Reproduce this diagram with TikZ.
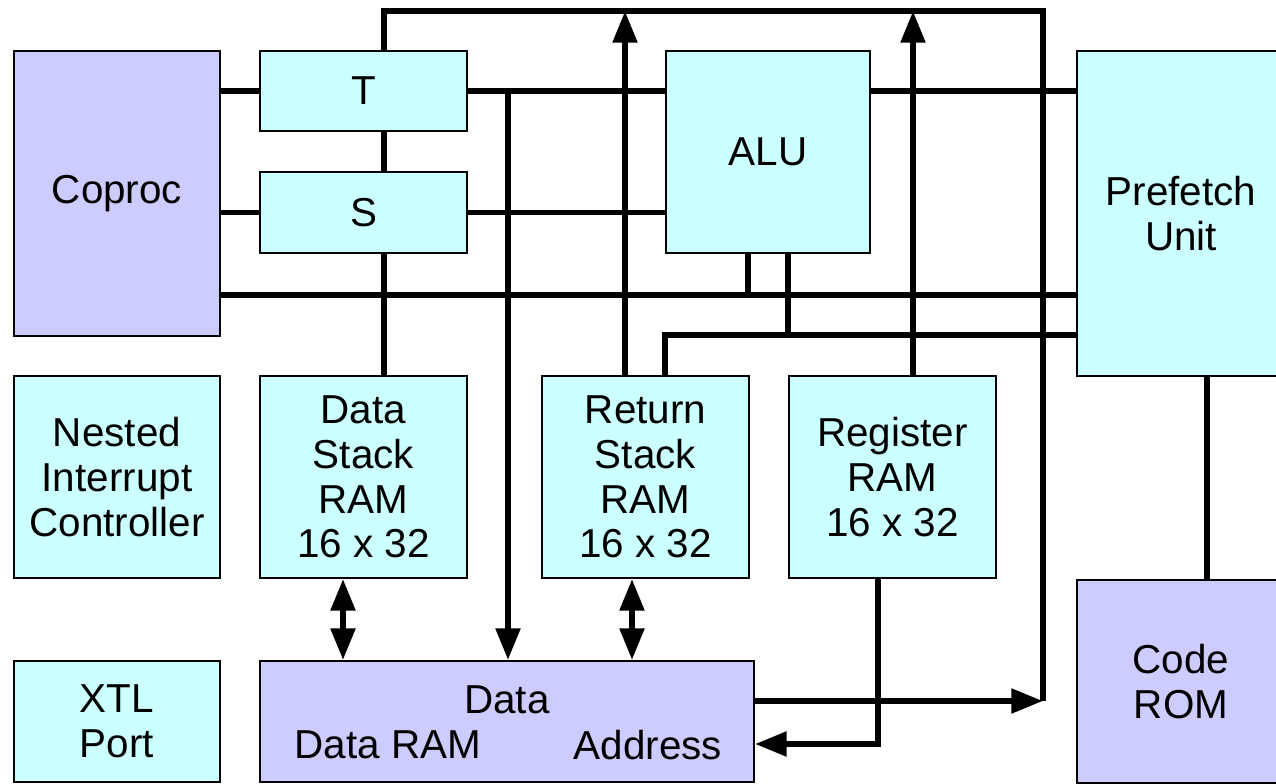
\documentclass[tikz,border=0pt]{standalone}
\usepackage{fontspec}
\setmainfont{Liberation Sans}
\usetikzlibrary{arrows.meta}
\definecolor{lav}{HTML}{CCCCFF}
\definecolor{aqua}{HTML}{CCFFFF}
\begin{document}
\begin{tikzpicture}[x=0.02cm, y=-0.02cm,
	blk/.style={draw, line width=1.1pt, align=center, inner sep=0pt, font=\fontsize{23}{25.5}\selectfont},
	cy/.style={blk, fill=aqua},
	lv/.style={blk, fill=lav},
	lbl/.style={inner sep=0pt, font=\fontsize{23}{25.5}\selectfont},
	bus/.style={line width=3.4pt},
	arr/.style={bus, -{Triangle[length=18pt, width=13.5pt]}},
	dbl/.style={bus, {Triangle[length=18pt, width=13.5pt]}-{Triangle[length=18pt, width=13.5pt]}}]
	\useasboundingbox (0,0) rectangle (1276,784);
	\node[lv, minimum width=4.12cm, minimum height=5.70cm] (coproc) at (117,193.5) {Coproc};
	\node[cy, minimum width=4.14cm, minimum height=1.60cm] (t) at (363.5,91) {T};
	\node[cy, minimum width=4.14cm, minimum height=1.62cm] (s) at (363.5,212.5) {S};
	\node[cy, minimum width=4.08cm, minimum height=4.04cm] (alu) at (768,152) {ALU};
	\node[cy, minimum width=4.16cm, minimum height=6.50cm] (pref) at (1181,213.5) {Prefetch\\Unit};
	\node[cy, minimum width=4.12cm, minimum height=4.04cm] (nic) at (117,477) {Nested\\Interrupt\\Controller};
	\node[cy, minimum width=4.14cm, minimum height=4.04cm] (dsr) at (363.5,477) {Data\\Stack\\RAM\\16 x 32};
	\node[cy, minimum width=4.14cm, minimum height=4.04cm] (rsr) at (645.5,477) {Return\\Stack\\RAM\\16 x 32};
	\node[cy, minimum width=4.14cm, minimum height=4.04cm] (reg) at (892.5,477) {Register\\RAM\\16 x 32};
	\node[cy, minimum width=4.12cm, minimum height=2.42cm] (xtl) at (117,721.5) {XTL\\Port};
	\node[lv, minimum width=9.88cm, minimum height=2.42cm] (dram) at (507,721.5) {};
	\node[lv, minimum width=4.16cm, minimum height=4.06cm] (rom) at (1181,681.5) {Code\\ROM};
	\node[lbl] (dlbl) at (507,700) {Data};
	\node[lbl] (ramlbl) at (388,745) {Data RAM};
	\node[lbl] (adrlbl) at (648,745) {Address};
	\coordinate (cx1) at (384,11);
	\coordinate (bus) at (1043,11);
	\coordinate (ret) at (1043,701);
	\coordinate (cxd) at (508,0);
	\coordinate (cxq) at (665,0);
	\coordinate (cxa) at (748,0);
	\coordinate (cxb) at (788,0);
	\coordinate (cxm) at (878,0);
	\coordinate (cxp) at (1207,0);
	\coordinate (hy1) at (0,295);
	\coordinate (hy2) at (0,335);
	\coordinate (hy3) at (0,744);
	\draw[bus] (t.north -| cx1) -- (cx1) -- (bus) -- (ret);
	\draw[arr] (dram.east |- ret) -- (ret);
	\draw[bus] (t.west -| coproc.east) -- (t.west);
	\draw[bus] (s.west -| coproc.east) -- (s.west);
	\draw[bus] (t.east) -- (t.east -| alu.west);
	\draw[bus] (t.east -| alu.east) -- (t.east -| pref.west);
	\draw[bus] (s.east) -- (s.east -| alu.west);
	\draw[bus] (t.south -| cx1) -- (s.north -| cx1);
	\draw[bus] (s.south -| cx1) -- (dsr.north -| cx1);
	\draw[arr] (t.east -| cxd) -- (dram.north -| cxd);
	\foreach \n/\xx in {rsr/625,reg/913}
	{\coordinate (up\n) at (\xx,0);
		\draw[arr] (\n.north -| up\n) -- (up\n |- bus);}
	\draw[bus] (hy1 -| coproc.east) -- (hy1 -| pref.west);
	\draw[bus] (alu.south -| cxa) -- (hy1 -| cxa);
	\draw[bus] (alu.south -| cxb) -- (hy2 -| cxb);
	\draw[bus] (rsr.north -| cxq) -- (hy2 -| cxq) -- (hy2 -| pref.west);
	\draw[bus] (pref.south -| cxp) -- (rom.north -| cxp);
	\foreach \n/\xx in {dsr/343,rsr/632}
	{\coordinate (dn\n) at (\xx,0);
		\draw[dbl] (\n.south -| dn\n) -- (dram.north -| dn\n);}
	\draw[arr] (reg.south -| cxm) |- (dram.east |- hy3);
\end{tikzpicture}
\end{document}
